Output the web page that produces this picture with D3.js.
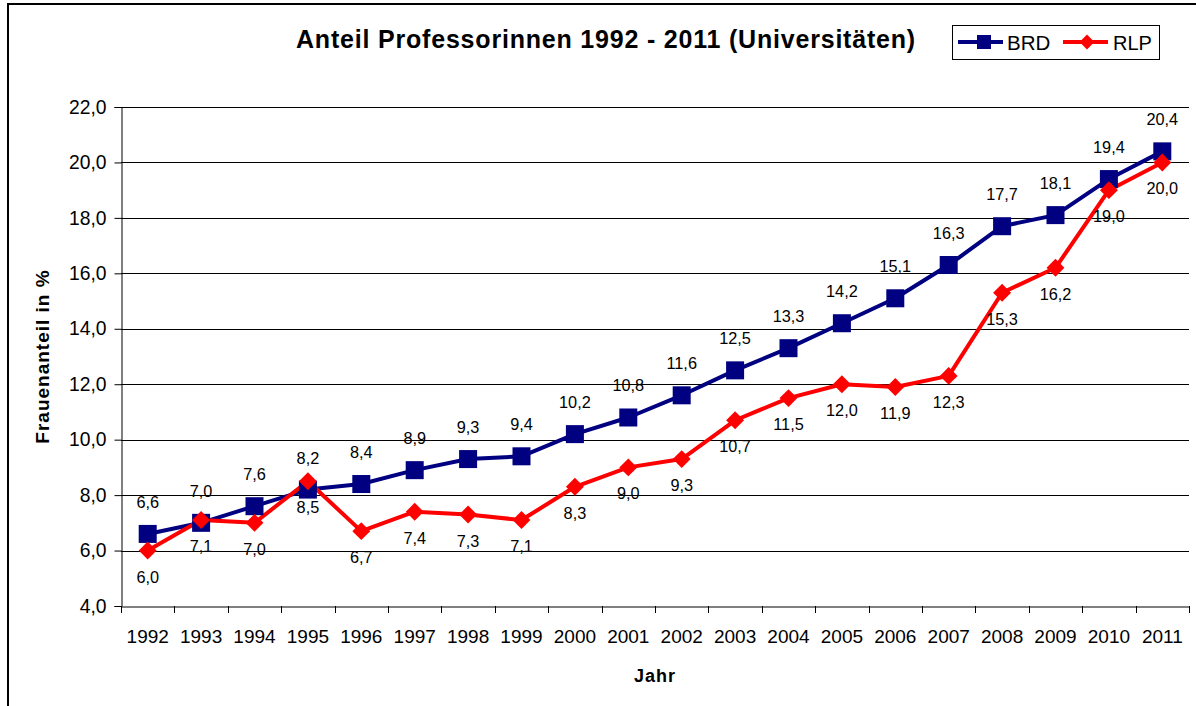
<!DOCTYPE html>
<html>
<head>
<meta charset="utf-8">
<script src="https://cdn.jsdelivr.net/npm/d3@7"></script>
<style>
  body { margin: 0; background: #fff; }
  svg { display: block; font-family: "Liberation Sans", Arial, sans-serif; }
</style>
</head>
<body>
<svg id="chart" width="1196" height="706"></svg>
<script>
const years = ["1992","1993","1994","1995","1996","1997","1998","1999","2000","2001","2002","2003","2004","2005","2006","2007","2008","2009","2010","2011"];
const brd = [6.6, 7.0, 7.6, 8.2, 8.4, 8.9, 9.3, 9.4, 10.2, 10.8, 11.6, 12.5, 13.3, 14.2, 15.1, 16.3, 17.7, 18.1, 19.4, 20.4];
const rlp = [6.0, 7.1, 7.0, 8.5, 6.7, 7.4, 7.3, 7.1, 8.3, 9.0, 9.3, 10.7, 11.5, 12.0, 11.9, 12.3, 15.3, 16.2, 19.0, 20.0];
const yTicks = [4, 6, 8, 10, 12, 14, 16, 18, 20, 22];
const seriesNames = ["BRD", "RLP"];

const svg = d3.select("#chart");
const m = { left: 121, right: 1189, top: 107, bottom: 606 };
const FONT = "Liberation Sans, Arial, sans-serif";

const fmt = v => d3.format(".1f")(v).replace(".", ",");

// outer border
svg.append("rect").attr("x", 8).attr("y", 4).attr("width", 1200).attr("height", 720)
  .attr("fill", "none").attr("stroke", "#000").attr("stroke-width", 2);

const x = d3.scaleBand().domain(years).range([m.left, m.right]).paddingInner(0).paddingOuter(0);
const y = d3.scaleLinear().domain([4, 22]).range([m.bottom, m.top]);

// gridlines
svg.append("g").selectAll("line").data(yTicks.slice(1)).join("line")
  .attr("x1", m.left).attr("x2", m.right)
  .attr("y1", d => Math.round(y(d)) + 0.5).attr("y2", d => Math.round(y(d)) + 0.5)
  .attr("stroke", "#000").attr("stroke-width", 1);

// y axis
const yAxis = svg.append("g").attr("transform", `translate(${m.left + 0.5},0)`)
  .call(d3.axisLeft(y).tickValues(yTicks).tickFormat(fmt).tickSize(7).tickPadding(8));
yAxis.select(".domain").attr("stroke", "#000");
yAxis.selectAll("text").attr("font-size", 19.3).attr("fill", "#000").attr("font-family", FONT);

// x axis
const xAxis = svg.append("g").attr("transform", `translate(0,${Math.round(y(4)) + 0.5})`)
  .call(d3.axisBottom(x).tickSize(0).tickPadding(23));
xAxis.select(".domain").attr("stroke", "#000");
xAxis.selectAll("text").attr("font-size", 19).attr("fill", "#000").attr("font-family", FONT);
// category boundary ticks
const bounds = years.map(d => x(d)).concat([x(years[years.length-1]) + x.bandwidth()]);
svg.append("g").selectAll("line").data(bounds).join("line")
  .attr("x1", d => Math.round(d) + 0.5).attr("x2", d => Math.round(d) + 0.5)
  .attr("y1", Math.round(y(4))).attr("y2", Math.round(y(4)) + 7)
  .attr("stroke", "#000");

const cx = i => x(years[i]) + x.bandwidth() / 2;

// lines
const line = d3.line().x((d, i) => cx(i)).y(d => y(d));
svg.append("path").datum(brd).attr("d", line).attr("fill", "none")
  .attr("stroke", "#000080").attr("stroke-width", 4).attr("stroke-linejoin", "round");
svg.append("path").datum(rlp).attr("d", line).attr("fill", "none")
  .attr("stroke", "#FF0000").attr("stroke-width", 4).attr("stroke-linejoin", "round");

// markers
svg.append("g").selectAll("rect").data(brd).join("rect")
  .attr("x", (d, i) => cx(i) - 9).attr("y", d => y(d) - 9)
  .attr("width", 18).attr("height", 18).attr("fill", "#000080");
const diamond = d3.symbol().type(d3.symbolSquare).size(160);
svg.append("g").selectAll("path").data(rlp).join("path")
  .attr("d", diamond)
  .attr("transform", (d, i) => `translate(${cx(i)},${y(d)}) rotate(45)`)
  .attr("fill", "#FF0000");

// data labels
svg.append("g").selectAll("text").data(brd).join("text")
  .attr("x", (d, i) => cx(i)).attr("y", d => y(d) - 26)
  .attr("text-anchor", "middle").attr("font-size", 16.3).attr("fill", "#000")
  .text(fmt);
svg.append("g").selectAll("text").data(rlp).join("text")
  .attr("x", (d, i) => cx(i)).attr("y", d => y(d) + 32)
  .attr("text-anchor", "middle").attr("font-size", 16.3).attr("fill", "#000")
  .text(fmt);

// title
svg.append("text").attr("x", 606).attr("y", 48).attr("text-anchor", "middle")
  .attr("font-size", 25).attr("font-weight", "bold").attr("letter-spacing", 0.8)
  .text("Anteil Professorinnen 1992 - 2011 (Universitäten)");

// axis titles
svg.append("text").attr("transform", `translate(49,${(m.top + m.bottom) / 2}) rotate(-90)`)
  .attr("text-anchor", "middle").attr("font-size", 19).attr("font-weight", "bold")
  .attr("letter-spacing", 1)
  .text("Frauenanteil in %");
svg.append("text").attr("x", (m.left + m.right) / 2).attr("y", 682)
  .attr("text-anchor", "middle").attr("font-size", 18).attr("font-weight", "bold")
  .attr("letter-spacing", 1)
  .text("Jahr");

// legend
const lg = svg.append("g");
lg.append("rect").attr("x", 952.5).attr("y", 25.5).attr("width", 207).attr("height", 34)
  .attr("fill", "#fff").attr("stroke", "#000").attr("stroke-width", 1);
const legY = 42;
// BRD
lg.append("line").attr("x1", 958).attr("x2", 1003).attr("y1", legY).attr("y2", legY)
  .attr("stroke", "#000080").attr("stroke-width", 4);
lg.append("rect").attr("x", 977).attr("y", legY - 7).attr("width", 14).attr("height", 14).attr("fill", "#000080");
lg.append("text").attr("x", 1007).attr("y", legY + 7.5).attr("font-size", 20.5).text(seriesNames[0]);
// RLP
lg.append("line").attr("x1", 1063).attr("x2", 1108).attr("y1", legY).attr("y2", legY)
  .attr("stroke", "#FF0000").attr("stroke-width", 4);
lg.append("path").attr("d", d3.symbol().type(d3.symbolSquare).size(110))
  .attr("transform", `translate(1087,${legY}) rotate(45)`).attr("fill", "#FF0000");
lg.append("text").attr("x", 1113).attr("y", legY + 7.5).attr("font-size", 20).text(seriesNames[1]);
</script>
</body>
</html>
